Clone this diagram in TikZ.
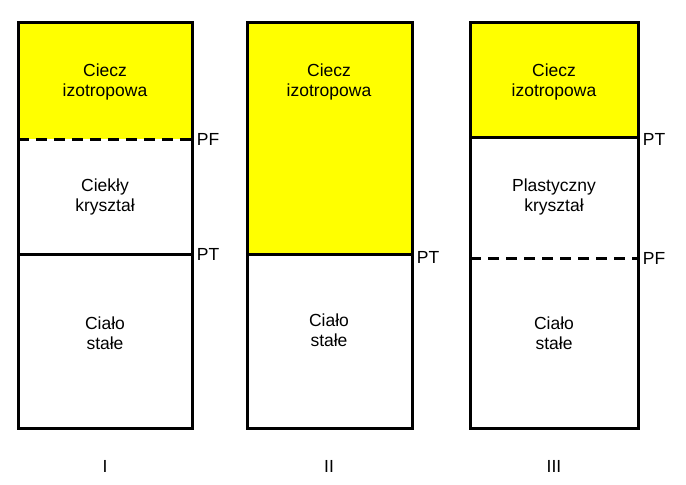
\documentclass[tikz,border=0pt]{standalone}
\usepackage{fontspec}
\setmainfont{Liberation Sans}
\definecolor{phaseyellow}{RGB}{255,255,0}
\begin{document}
\begin{tikzpicture}[x=1pt,y=-1pt,line width=3pt,
  lab/.style={font=\fontsize{17.5}{20}\selectfont,align=center},
  side/.style={font=\fontsize{17.5}{20}\selectfont,anchor=west}]
  \useasboundingbox (0,0) rectangle (686,485);
  % kolumna I
  \fill[phaseyellow] (18,22) rectangle (192,139);
  \draw[dashed,dash pattern=on 11pt off 7pt] (18,139) -- (192,139);
  \draw (18,254) -- (192,254);
  \draw (18,22) rectangle (192,428);
  \node[lab] (c1) at (105,82) {Ciecz\\izotropowa};
  \node[lab] (k1) at (105,197) {Ciekły\\kryształ};
  \node[lab] (s1) at (105,333) {Ciało\\stałe};
  \node[side] (pf1) at (192,139) {PF};
  \node[side] (pt1) at (192,254) {PT};
  \node[lab] (n1) at (105,466) {I};
  % kolumna II
  \fill[phaseyellow] (247,22) rectangle (412,254);
  \draw (247,254) -- (412,254);
  \draw (247,22) rectangle (412,428);
  \node[lab] (c2) at (329,82) {Ciecz\\izotropowa};
  \node[lab] (s2) at (329,330) {Ciało\\stałe};
  \node[side] (pt2) at (412,257) {PT};
  \node[lab] (n2) at (329,466) {II};
  % kolumna III
  \fill[phaseyellow] (470,22) rectangle (638,137);
  \draw (470,137) -- (638,137);
  \draw[dashed,dash pattern=on 11pt off 7pt] (470,258) -- (638,258);
  \draw (470,22) rectangle (638,428);
  \node[lab] (c3) at (554,82) {Ciecz\\izotropowa};
  \node[lab] (k3) at (554,197) {Plastyczny\\kryształ};
  \node[lab] (s3) at (554,333) {Ciało\\stałe};
  \node[side] (pt3) at (638,139) {PT};
  \node[side] (pf3) at (638,258) {PF};
  \node[lab] (n3) at (554,466) {III};
\end{tikzpicture}
\end{document}
